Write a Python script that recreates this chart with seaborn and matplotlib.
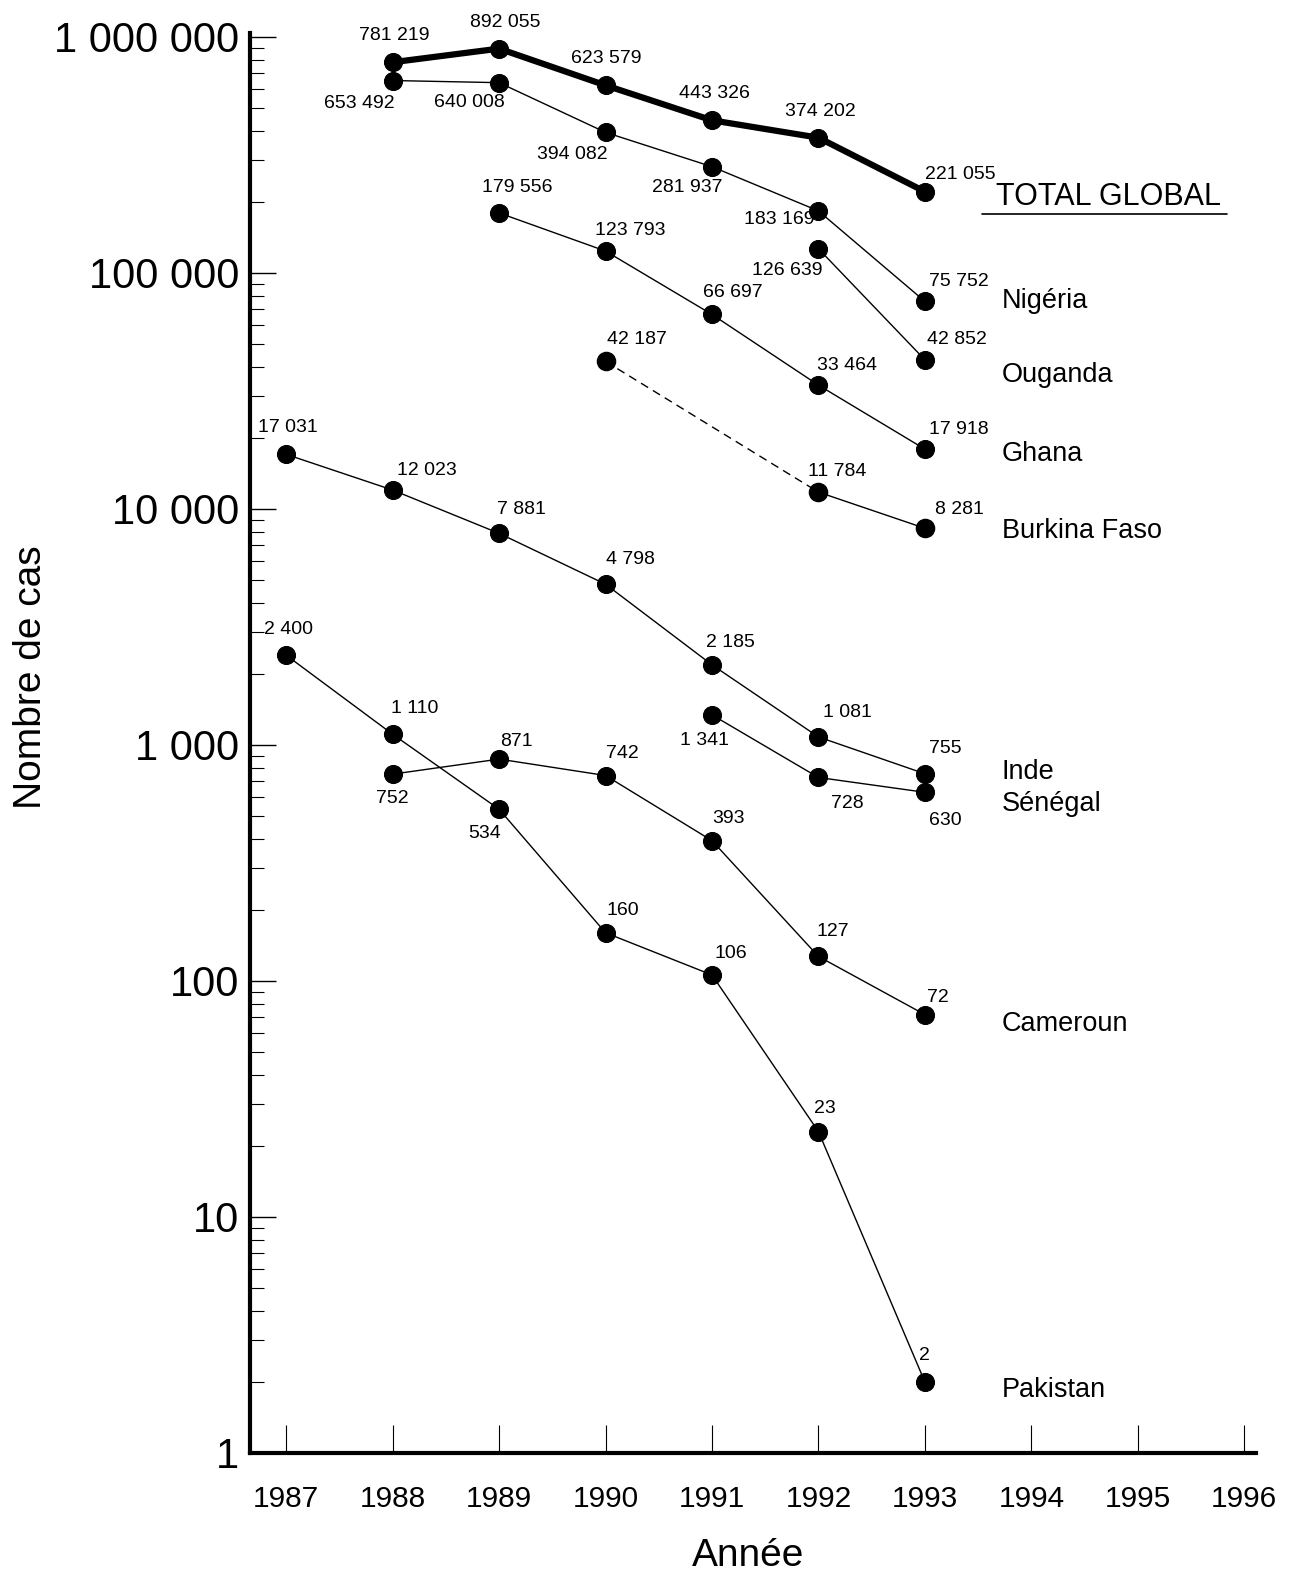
import numpy as np
import pandas as pd
import matplotlib
matplotlib.use('Agg')
import matplotlib.pyplot as plt
from matplotlib.ticker import FixedLocator, FuncFormatter, NullFormatter
from matplotlib.lines import Line2D
import seaborn as sns

# Cases per year, one array per country
years_total = [1988, 1989, 1990, 1991, 1992, 1993]
total_global = [781219, 892055, 623579, 443326, 374202, 221055]

years_nigeria = [1988, 1989, 1990, 1991, 1992, 1993]
nigeria = [653492, 640008, 394082, 281937, 183169, 75752]

years_ouganda = [1992, 1993]
ouganda = [126639, 42852]

years_ghana = [1989, 1990, 1991, 1992, 1993]
ghana = [179556, 123793, 66697, 33464, 17918]

years_burkina = [1990, 1992, 1993]
burkina = [42187, 11784, 8281]

years_inde = [1987, 1988, 1989, 1990, 1991, 1992, 1993]
inde = [17031, 12023, 7881, 4798, 2185, 1081, 755]

years_senegal = [1991, 1992, 1993]
senegal = [1341, 728, 630]

years_cameroun = [1988, 1989, 1990, 1991, 1992, 1993]
cameroun = [752, 871, 742, 393, 127, 72]

years_pakistan = [1987, 1988, 1989, 1990, 1991, 1992, 1993]
pakistan = [2400, 1110, 534, 160, 106, 23, 2]

year_ticks = list(range(1987, 1997))
y_ticks = [1, 10, 100, 1000, 10000, 100000, 1000000]

# label offsets in pixels (dx, dy up) for each point's value
off_total = [(2, 27), (6, 26), (1, 27), (2, 27), (2, 26), (35, 17)]
off_nigeria = [(-33, -23), (-30, -20), (-33, -22), (-25, -21), (-39, -9), (34, 20)]
off_ouganda = [(-31, -22), (32, 20)]
off_ghana = [(18, 25), (25, 21), (21, 22), (29, 20), (34, 20)]
off_burkina = [(31, 22), (19, 21), (35, 19)]
off_inde = [(2, 27), (34, 20), (22, 24), (25, 25), (18, 22), (29, 24), (20, 25)]
off_senegal = [(-7, -26), (29, -26), (20, -28)]
off_cameroun = [(0, -24), (17, 18), (17, 22), (16, 22), (14, 25), (13, 17)]
off_pakistan = [(2, 26), (22, 26), (-14, -24), (17, 22), (19, 21), (6, 23), (0, 26)]

sns.set_style('ticks', {'text.color': 'black', 'axes.labelcolor': 'black',
                        'xtick.color': 'black', 'ytick.color': 'black',
                        'axes.edgecolor': 'black'})
plt.rcParams['font.family'] = ['Liberation Sans', 'DejaVu Sans']

fig = plt.figure(figsize=(13, 15.75), dpi=100)
ax = fig.add_axes([0.1923, 0.0775, 0.7738, 0.9016])


def fmt(v):
    return f"{int(v):,}".replace(',', ' ')


def draw(years, vals, offs, lw=1.0):
    df = pd.DataFrame({'Année': years, 'Cas': vals})
    sns.lineplot(data=df, x='Année', y='Cas', ax=ax, color='black', lw=lw,
                 marker='o', markersize=13, markeredgecolor='black', estimator=None)
    for x, y, (dx, dy) in zip(years, vals, offs):
        ax.annotate(fmt(y), (x, y), xytext=(dx, dy), textcoords='offset pixels',
                    ha='center', va='center', fontsize=14)


draw(years_total, total_global, off_total, lw=4.5)
draw(years_nigeria, nigeria, off_nigeria)
draw(years_ouganda, ouganda, off_ouganda)
draw(years_ghana, ghana, off_ghana)
draw(years_inde, inde, off_inde)
draw(years_senegal, senegal, off_senegal)
draw(years_cameroun, cameroun, off_cameroun)
draw(years_pakistan, pakistan, off_pakistan)

# Burkina Faso: dashed where 1991 is missing
bf = pd.DataFrame({'Année': years_burkina, 'Cas': burkina})
sns.lineplot(data=bf.iloc[:2], x='Année', y='Cas', ax=ax, color='black', lw=1.0, estimator=None)
ax.lines[-1].set_linestyle((0, (6, 4)))
sns.lineplot(data=bf.iloc[1:], x='Année', y='Cas', ax=ax, color='black', lw=1.0, estimator=None)
sns.scatterplot(data=bf, x='Année', y='Cas', ax=ax, color='black', s=170, edgecolor='black', zorder=3)
for x, y, (dx, dy) in zip(years_burkina, burkina, off_burkina):
    ax.annotate(fmt(y), (x, y), xytext=(dx, dy), textcoords='offset pixels',
                ha='center', va='center', fontsize=14)

# country names at the end of each line
names = [('Nigéria', nigeria, 0), ('Ouganda', ouganda, -15), ('Ghana', ghana, -5),
         ('Burkina Faso', burkina, -3), ('Inde', inde, 2), ('Sénégal', senegal, -12),
         ('Cameroun', cameroun, -9), ('Pakistan', pakistan, -8)]
for name, vals, dy in names:
    ax.annotate(name, (1993, vals[-1]), xytext=(77, dy), textcoords='offset pixels',
                ha='left', va='center', fontsize=19.5)

tg = ax.annotate('TOTAL GLOBAL', (1993, total_global[-1]), xytext=(184, -5),
                 textcoords='offset pixels', ha='center', va='center', fontsize=22)

ax.set_yscale('log')
ax.set_xlim(1986.66, 1996.11)
ax.set_ylim(1, 10 ** 6.017)
ax.set_xticks(year_ticks)
ax.set_xticklabels([str(y) for y in year_ticks])
ax.yaxis.set_major_locator(FixedLocator(y_ticks))
minor = [m * t for t in y_ticks[:-1] for m in range(2, 10)]
ax.yaxis.set_minor_locator(FixedLocator(minor))
ax.yaxis.set_major_formatter(FuncFormatter(lambda v, p: fmt(v)))
ax.yaxis.set_minor_formatter(NullFormatter())

ax.tick_params(axis='y', which='major', direction='in', length=19, width=1, labelsize=30, pad=8)
ax.tick_params(axis='y', which='minor', direction='in', length=10, width=0.8)
ax.tick_params(axis='x', which='major', direction='in', length=20, width=0.8, labelsize=21.5, pad=23)
ax.tick_params(axis='x', which='minor', bottom=False)

sns.despine(ax=ax)
for s in ['left', 'bottom']:
    ax.spines[s].set_linewidth(3)

ax.set_xlabel('Année', fontsize=28)
ax.set_ylabel('Nombre de cas', fontsize=28)
ax.xaxis.set_label_coords(0.495, -0.06)
ax.yaxis.set_label_coords(-0.2, 0.546)

# underline for TOTAL GLOBAL
fig.canvas.draw()
bb = tg.get_window_extent()
fig.add_artist(Line2D([bb.x0 - 14, bb.x1 + 6], [bb.y0 - 2, bb.y0 - 2], color='black', lw=1.2,
                      transform=None))

fig.savefig('out.png', dpi=100)
